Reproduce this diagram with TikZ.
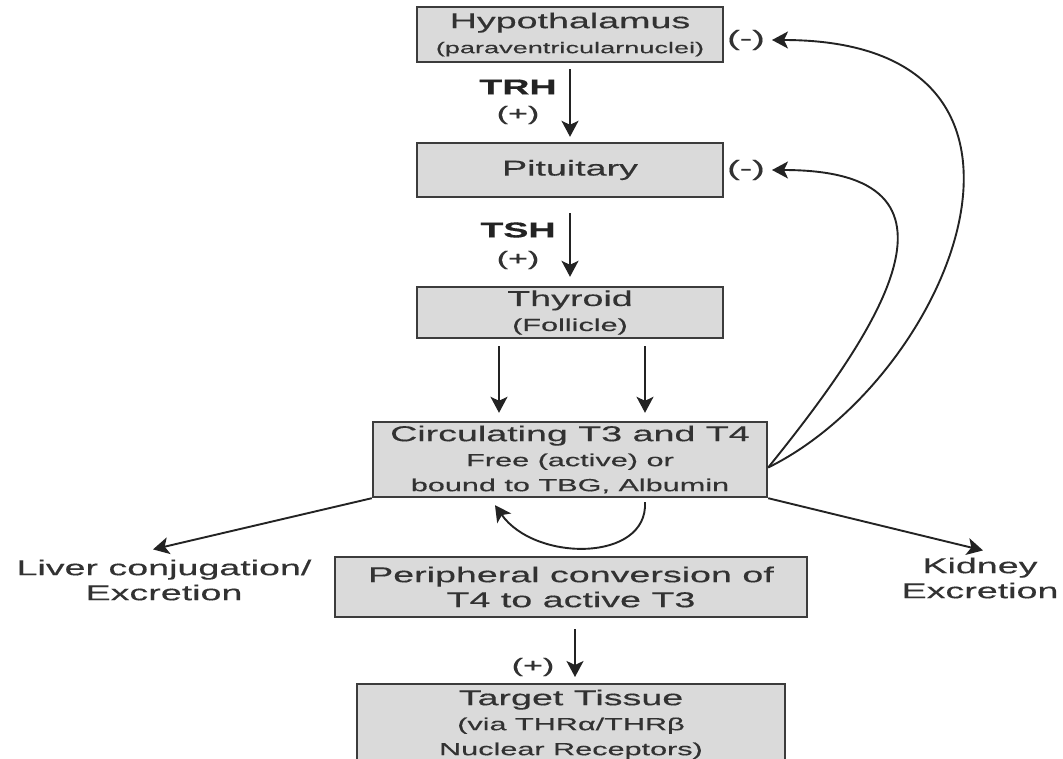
\documentclass[tikz,border=0pt]{standalone}
\usepackage{fontspec}
\setmainfont{Liberation Sans}[FakeStretch=1.75, FakeBold=0.4]
\usetikzlibrary{arrows.meta, positioning, calc}
\definecolor{boxgray}{RGB}{218,218,218}
\definecolor{edgegray}{RGB}{60,60,60}
\definecolor{inkgray}{RGB}{35,35,35}
\definecolor{txtgray}{RGB}{50,50,50}
\newcommand{\bigtxt}{\fontsize{21.5}{25}\selectfont}
\newcommand{\midtxt}{\fontsize{17.5}{21}\selectfont}
\newcommand{\smtxt}{\fontsize{15.5}{19}\selectfont}

\begin{document}
\begin{tikzpicture}[x=1pt, y=-1pt,
  organ/.style={draw=edgegray, fill=boxgray, line width=2.4pt, text=txtgray, align=center, inner sep=2pt, font=\bigtxt},
  flow/.style={draw=inkgray, line width=1.9pt, -{Stealth[length=16pt,width=17pt,inset=4pt]}},
  sign/.style={text=txtgray, font=\fontsize{19.5}{22}\selectfont, inner sep=1pt},
  hormone/.style={text=inkgray, font=\bigtxt\bfseries, inner sep=1pt},
  fate/.style={text=txtgray, font=\bigtxt, align=center, inner sep=1pt}]

  \path[use as bounding box, fill=white] (0,0) rectangle (1063,758);

  \node[organ, minimum width=306pt, minimum height=55pt] (hyp) at (570,34.5) {Hypothalamus\\{\smtxt (paraventricularnuclei)}};
  \node[organ, minimum width=306pt, minimum height=54pt] (pit) at (570,170) {Pituitary};
  \node[organ, minimum width=306pt, minimum height=51pt] (thy) at (570,312.5) {Thyroid\\{\midtxt (Follicle)}};
  \node[organ, minimum width=394pt, minimum height=75pt] (circ) at (570,459.5) {Circulating T3 and T4\\{\midtxt Free (active) or}\\{\midtxt bound to TBG, Albumin}};
  \node[organ, minimum width=472pt, minimum height=60pt] (peri) at (571,587) {Peripheral conversion of\\T4 to active T3};
  \node[organ, minimum width=428pt, minimum height=80pt, anchor=north] (targ) at (571,683) {Target Tissue\\{\midtxt (via THRα/THRβ}\\{\midtxt Nuclear Receptors)}};

  \node[fate] (liv) at (164,580) {Liver conjugation/\\Excretion};
  \node[fate] (kid) at (980,578) {Kidney\\Excretion};

  \node[hormone] (trh) at (518,87) {TRH};
  \node[sign] (trhp) at (518,115) {(+)};
  \node[hormone] (tsh) at (518,230) {TSH};
  \node[sign] (tshp) at (518,260) {(+)};
  \node[sign] (tgp) at (533,667) {(+)};
  \node[sign, font=\bigtxt] (hm) at (746,40) {(-)};
  \node[sign, font=\bigtxt] (pm) at (746,170) {(-)};

  \draw[flow, shorten <=6pt, shorten >=5pt] (hyp) -- (pit);
  \draw[flow, shorten <=15pt, shorten >=9pt] (pit) -- (thy);
  \draw[flow, shorten <=7pt, shorten >=8pt] ([xshift=-71pt]thy.south) -- ([xshift=-71pt]circ.north);
  \draw[flow, shorten <=7pt, shorten >=8pt] ([xshift=75pt]thy.south) -- ([xshift=75pt]circ.north);
  \draw[flow, shorten <=11pt, shorten >=6pt] ([xshift=4pt]peri.south) -- ([xshift=4pt]targ.north);

  \draw[flow] (circ.south west) -- ([xshift=-11pt,yshift=9pt]liv.north);
  \draw[flow] (circ.south east) -- ([xshift=3pt,yshift=6pt]kid.north);

  \draw[flow] ([yshift=-8pt]circ.east) .. controls +(183,-90) and +(318,0) .. ([xshift=6pt]hm.east);
  \draw[flow] ([yshift=-8pt]circ.east) .. controls +(113,-140) and +(213,0) .. ([xshift=6pt]pm.east);
  \draw[flow] ([xshift=75pt,yshift=-4pt]circ.south) .. controls +(3,60) and +(40,57) .. ([xshift=-75pt,yshift=-7pt]circ.south);

\end{tikzpicture}
\end{document}
